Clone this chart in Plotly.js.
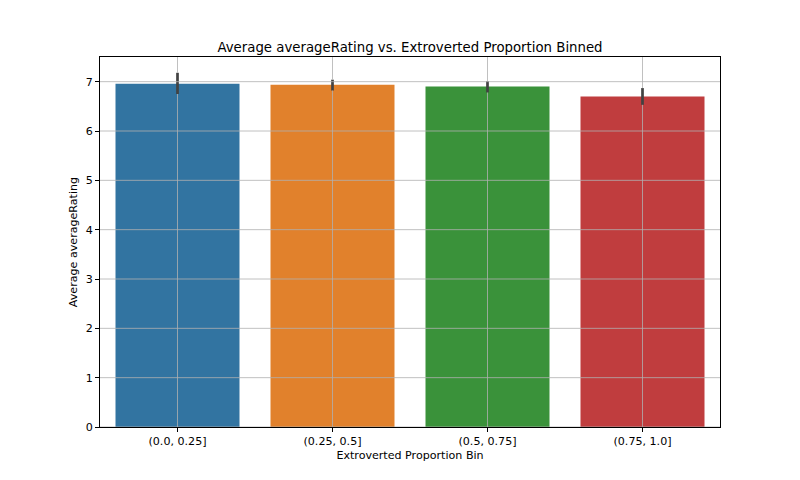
<!DOCTYPE html>
<html>
<head>
<meta charset="utf-8">
<script src="https://cdn.plot.ly/plotly-3.0.1.min.js"></script>
<style>
  html, body { margin: 0; padding: 0; background: #fff; }
  #chart { width: 800px; height: 480px; }
</style>
</head>
<body>
<div id="chart"></div>
<script>
// bins and mean rating per bin
const bins = ["(0.0, 0.25]", "(0.25, 0.5]", "(0.5, 0.75]", "(0.75, 1.0]"];
const meanRating = [6.96, 6.94, 6.90, 6.70];
const ciHigh = [7.18, 7.04, 7.01, 6.87];
const ciLow = [6.75, 6.82, 6.78, 6.53];
const barColors = ["#3274a1", "#e1812c", "#3a923a", "#c03d3e"];
const yTicks = [0, 1, 2, 3, 4, 5, 6, 7];
const yRange = [0, 7.5];

const errUp = meanRating.map((m, i) => ciHigh[i] - m);
const errDown = meanRating.map((m, i) => m - ciLow[i]);

const trace = {
   x: bins,
   y: meanRating,
   type: 'bar',
   width: 0.8,
   marker: { color: barColors, line: { width: 0 } },
   error_y: {
      type: 'data',
      symmetric: false,
      array: errUp,
      arrayminus: errDown,
      color: '#424242',
      thickness: 2.7,
      width: 0
   },
   hoverinfo: 'none'
};

// matplotlib draws the grid over the bars (but under the error bars),
// so the grid is made of shapes and the vertical ones skip the CI lines
const gridStyle = { color: '#b0b0b0', width: 0.8 };
const shapes = [];
yTicks.forEach(v => shapes.push({
   type: 'line', layer: 'above', xref: 'paper', x0: 0, x1: 1,
   yref: 'y', y0: v, y1: v, line: gridStyle
}));
bins.forEach((b, i) => {
   shapes.push({
      type: 'line', layer: 'above', xref: 'x', x0: b, x1: b,
      yref: 'y', y0: yRange[0], y1: ciLow[i], line: gridStyle
   });
   shapes.push({
      type: 'line', layer: 'above', xref: 'x', x0: b, x1: b,
      yref: 'y', y0: ciHigh[i], y1: yRange[1], line: gridStyle
   });
});

const font = { family: 'DejaVu Sans', size: 11.1, color: '#000' };

const layout = {
   width: 800,
   height: 480,
   paper_bgcolor: '#fff',
   plot_bgcolor: '#fff',
   font: font,
   showlegend: false,
   margin: { l: 100, r: 80, t: 57, b: 53, pad: 0 },
   title: {
      text: 'Average averageRating vs. Extroverted Proportion Binned',
      font: { family: 'DejaVu Sans', size: 13.3, color: '#000' },
      x: 0.5, xanchor: 'center', xref: 'paper',
      y: 0.891, yanchor: 'bottom'
   },
   xaxis: {
      type: 'category',
      range: [-0.5, 3.5],
      showgrid: false,
      showline: true, mirror: true, linecolor: '#000', linewidth: 1,
      ticks: 'outside', ticklen: 4, tickcolor: '#000', tickwidth: 1,
      tickfont: font,
      title: { text: 'Extroverted Proportion Bin', font: font, standoff: 3 },
      fixedrange: true
   },
   yaxis: {
      range: yRange,
      tickvals: yTicks,
      showgrid: false,
      zeroline: false,
      showline: true, mirror: true, linecolor: '#000', linewidth: 1,
      ticks: 'outside', ticklen: 4, tickcolor: '#000', tickwidth: 1,
      tickfont: font,
      title: { text: 'Average averageRating', font: font, standoff: 5 },
      fixedrange: true
   },
   shapes: shapes
};

Plotly.newPlot('chart', [trace], layout, { displayModeBar: false, staticPlot: true });
</script>
</body>
</html>
